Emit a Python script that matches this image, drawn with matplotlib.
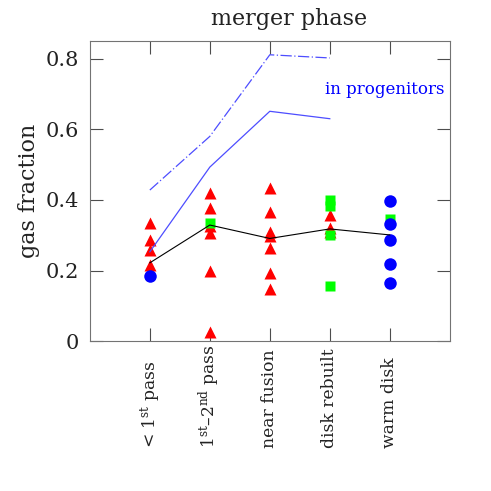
import matplotlib
matplotlib.use("Agg")
import matplotlib.pyplot as plt

# merger phases
phases = [r"< 1$^{\rm st}$ pass", r"1$^{\rm st}$–2$^{\rm nd}$ pass",
          "near fusion", "disk rebuilt", "warm disk"]

# red triangles: (phase index, gas fraction)
tri_x = [1, 1, 1, 1,
         2, 2, 2, 2, 2, 2,
         3, 3, 3, 3, 3, 3, 3,
         4, 4, 4]
tri_y = [0.334, 0.286, 0.258, 0.216,
         0.419, 0.376, 0.325, 0.306, 0.200, 0.026,
         0.433, 0.365, 0.310, 0.298, 0.263, 0.192, 0.147,
         0.357, 0.320, 0.310]

# green squares
sq_x = [2, 4, 4, 4, 4, 5]
sq_y = [0.336, 0.400, 0.383, 0.301, 0.157, 0.346]

# blue circles
circ_x = [1, 5, 5, 5, 5, 5]
circ_y = [0.184, 0.398, 0.331, 0.286, 0.220, 0.166]

# mean line
mean_x = [1, 2, 3, 4, 5]
mean_y = [0.222, 0.329, 0.291, 0.318, 0.301]

# gas fraction in progenitors
prog_x = [1, 2, 3, 4]
prog_solid = [0.253, 0.493, 0.651, 0.630]
prog_dashdot = [0.428, 0.580, 0.811, 0.802]

plt.rcParams['font.family'] = 'DejaVu Serif'
plt.rcParams['mathtext.fontset'] = 'dejavuserif'
txt = '#222222'

fig = plt.figure(figsize=(4.91, 4.91), dpi=100)
ax = fig.add_axes([0.183, 0.305, 0.733, 0.6115])

blue = (0.3, 0.3, 1.0)
ax.plot(tri_x, tri_y, '^', color='red', ms=8, mec='none', zorder=2)
ax.plot(sq_x, sq_y, 's', color=(0.0, 1.0, 0.0), ms=6.5, mec='none', zorder=2)
ax.plot(circ_x, circ_y, 'o', color='blue', ms=9, mec='none', zorder=2)
ax.plot(mean_x, mean_y, '-', color='black', lw=0.8, zorder=3)
ax.plot(prog_x, prog_solid, '-', color=blue, lw=0.9, zorder=3)
ax.plot(prog_x, prog_dashdot, color=blue, lw=0.9, ls=(0, (9, 2, 1, 2)), zorder=3)
ax.text(3.92, 0.712, "in progenitors", color='blue', fontsize=12, va='center')

ax.set_xlim(0, 6)
ax.set_ylim(0, 0.85)
ax.set_xticks(mean_x)
ax.set_xticklabels([])
for x, lab in zip(mean_x, phases):
    ax.text(x, -0.357, lab, rotation=90, ha='center', va='bottom',
            fontsize=12.3, color=txt, transform=ax.get_xaxis_transform())
ax.set_yticks([0, 0.2, 0.4, 0.6, 0.8])
ax.set_yticklabels(["0", "0.2", "0.4", "0.6", "0.8"], fontsize=15, color=txt)
ax.tick_params(direction='in', top=True, right=True, length=9.5, width=0.8,
               color='0.3', pad=8)
for s in ax.spines.values():
    s.set_color('0.45')
ax.set_ylabel("gas fraction", fontsize=16, labelpad=4, color=txt)
fig.text(0.589, 0.962, "merger phase", fontsize=16, ha='center', va='center', color=txt)

fig.savefig("out.png", dpi=100)
